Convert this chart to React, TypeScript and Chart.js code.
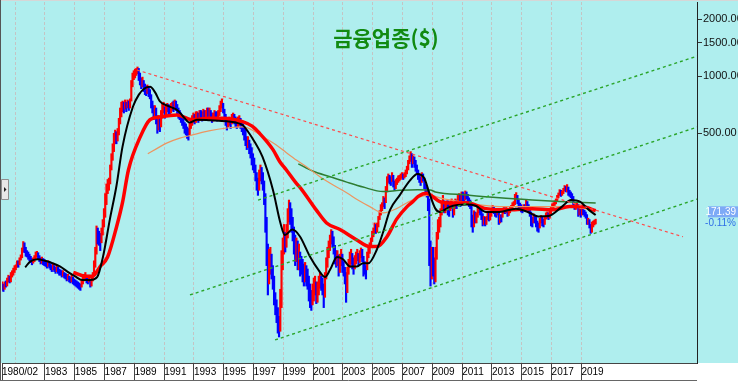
import React, { useEffect, useRef } from 'react';
import { Chart, registerables } from 'chart.js';

Chart.register(...registerables);

// ---------- data (monthly, from 1980/02) ----------
const START_YEAR = 1980;
const START_MONTH = 2;

const closes: number[] = [
  /*1980*/ 78, 76, 80, 79, 84, 86, 83, 88, 91, 94, 97,
  /*1981*/ 99, 104, 101, 108, 112, 120, 128, 124, 118, 116, 113, 110,
  /*1982*/ 108, 105, 107, 110, 113, 116, 112, 109, 106, 108, 105, 104,
  /*1983*/ 102, 100, 103, 101, 98, 97, 99, 96, 95, 97, 94, 93,
  /*1984*/ 92, 90, 91, 89, 88, 86, 87, 85, 84, 86, 83, 82,
  /*1985*/ 81, 80, 79, 78, 77, 80, 84, 86, 88, 85, 83, 86,
  /*1986*/ 80, 82, 88, 98, 115, 148, 142, 140, 135, 150, 165, 185,
  /*1987*/ 220, 250, 265, 275, 320, 370, 410, 470, 480, 470, 500, 560,
  /*1988*/ 620, 680, 700, 690, 710, 690, 720, 700, 720, 900, 980, 1020,
  /*1989*/ 1040, 1070, 1090, 1020, 960, 920, 930, 880, 860, 840, 860, 830,
  /*1990*/ 780, 720, 680, 640, 660, 600, 540, 580, 560, 620, 680, 690,
  /*1991*/ 640, 660, 690, 670, 650, 680, 700, 690, 720, 700, 660, 640,
  /*1992*/ 620, 600, 580, 560, 530, 520, 500, 490, 530, 560, 580, 600,
  /*1993*/ 590, 610, 620, 600, 630, 620, 610, 640, 620, 630, 650, 640,
  /*1994*/ 650, 620, 600, 610, 630, 620, 610, 630, 660, 700, 720, 660,
  /*1995*/ 620, 580, 560, 570, 580, 560, 600, 610, 590, 570, 560, 580,
  /*1996*/ 580, 560, 540, 520, 500, 470, 440, 450, 420, 400, 380, 350,
  /*1997*/ 330, 300, 280, 260, 290, 310, 300, 270, 230, 170, 120, 90,
  /*1998*/ 105, 110, 100, 90, 72, 62, 58, 50, 46, 62, 100, 125,
  /*1999*/ 140, 130, 145, 180, 200, 190, 170, 160, 140, 120, 125, 115,
  /*2000*/ 115, 105, 100, 95, 90, 92, 88, 84, 75, 68, 64, 70,
  /*2001*/ 76, 78, 70, 72, 80, 85, 80, 78, 70, 85, 100, 115,
  /*2002*/ 125, 135, 145, 140, 128, 115, 110, 112, 100, 105, 112, 100,
  /*2003*/ 95, 88, 75, 90, 100, 108, 112, 105, 100, 106, 110, 115,
  /*2004*/ 108, 112, 118, 115, 100, 98, 92, 110, 120, 125, 135, 145,
  /*2005*/ 150, 160, 155, 160, 175, 185, 200, 205, 220, 215, 250, 280,
  /*2006*/ 290, 285, 280, 295, 275, 265, 270, 280, 285, 290, 295, 300,
  /*2007*/ 295, 300, 310, 320, 350, 370, 380, 360, 365, 355, 330, 320,
  /*2008*/ 300, 290, 280, 295, 290, 265, 255, 245, 215, 120, 95, 110,
  /*2009*/ 100, 88, 110, 140, 160, 165, 190, 200, 215, 200, 205, 210,
  /*2010*/ 200, 195, 210, 215, 195, 200, 215, 210, 225, 230, 220, 235,
  /*2011*/ 230, 225, 240, 235, 225, 215, 210, 180, 165, 185, 180, 180,
  /*2012*/ 195, 200, 195, 185, 170, 175, 170, 175, 185, 180, 182, 195,
  /*2013*/ 200, 198, 190, 188, 192, 172, 180, 178, 192, 198, 195, 198,
  /*2014*/ 190, 192, 198, 202, 208, 212, 230, 235, 220, 210, 205, 200,
  /*2015*/ 198, 205, 202, 215, 208, 200, 190, 175, 170, 180, 175, 170,
  /*2016*/ 160, 158, 172, 178, 170, 168, 178, 185, 185, 182, 190, 200,
  /*2017*/ 205, 210, 215, 218, 228, 235, 245, 240, 242, 250, 258, 255,
  /*2018*/ 262, 245, 240, 238, 230, 210, 205, 205, 210, 190, 195, 188,
  /*2019*/ 195, 192, 188, 185, 170, 172, 162, 152, 165, 166, 170, 171.39,
];

const highs: number[] = [
  /*1980*/ 82, 80, 82, 83, 86, 89, 88, 92, 94, 97, 100,
  /*1981*/ 101, 106, 106, 110, 114, 124, 134, 132, 125, 120, 118, 115,
  /*1982*/ 112, 109, 110, 113, 118, 119, 117, 113, 110, 111, 109, 108,
  /*1983*/ 106, 104, 106, 105, 102, 100, 102, 100, 98, 100, 98, 96,
  /*1984*/ 95, 94, 94, 92, 91, 90, 90, 88, 87, 89, 87, 85,
  /*1985*/ 84, 83, 82, 81, 80, 84, 88, 90, 92, 89, 87, 89,
  /*1986*/ 84, 86, 92, 106, 125, 162, 158, 152, 148, 158, 175, 200,
  /*1987*/ 240, 270, 285, 290, 340, 390, 440, 500, 520, 510, 530, 600,
  /*1988*/ 680, 730, 740, 730, 750, 730, 750, 740, 760, 950, 1040, 1070,
  /*1989*/ 1090, 1100, 1120, 1100, 1040, 980, 990, 950, 910, 890, 900, 880,
  /*1990*/ 850, 800, 740, 700, 700, 680, 620, 620, 600, 660, 720, 730,
  /*1991*/ 690, 700, 720, 710, 700, 720, 730, 740, 750, 740, 710, 680,
  /*1992*/ 660, 640, 620, 600, 570, 560, 540, 530, 570, 600, 620, 640,
  /*1993*/ 630, 650, 650, 640, 660, 660, 650, 670, 660, 660, 680, 680,
  /*1994*/ 680, 660, 640, 640, 660, 650, 650, 660, 700, 740, 760, 720,
  /*1995*/ 670, 630, 600, 600, 610, 600, 630, 640, 630, 610, 600, 610,
  /*1996*/ 620, 600, 580, 560, 540, 520, 480, 480, 460, 440, 420, 390,
  /*1997*/ 370, 340, 310, 290, 320, 340, 330, 310, 280, 240, 180, 130,
  /*1998*/ 122, 125, 115, 100, 88, 72, 66, 60, 54, 75, 120, 140,
  /*1999*/ 165, 150, 165, 200, 222, 215, 200, 180, 160, 145, 140, 135,
  /*2000*/ 130, 118, 112, 108, 102, 104, 100, 96, 88, 80, 74, 80,
  /*2001*/ 86, 88, 82, 82, 88, 92, 88, 86, 80, 92, 110, 125,
  /*2002*/ 135, 145, 155, 152, 142, 128, 120, 120, 114, 115, 122, 115,
  /*2003*/ 105, 98, 92, 98, 108, 118, 122, 116, 110, 113, 118, 122,
  /*2004*/ 116, 120, 124, 122, 112, 105, 100, 118, 125, 132, 140, 152,
  /*2005*/ 158, 168, 165, 168, 182, 195, 210, 215, 232, 228, 262, 295,
  /*2006*/ 305, 300, 295, 310, 300, 280, 285, 290, 298, 300, 305, 310,
  /*2007*/ 305, 310, 320, 335, 360, 380, 400, 390, 380, 375, 360, 340,
  /*2008*/ 320, 305, 295, 310, 305, 290, 270, 260, 250, 225, 135, 125,
  /*2009*/ 125, 110, 125, 150, 175, 180, 200, 215, 235, 220, 215, 220,
  /*2010*/ 220, 210, 220, 225, 215, 212, 225, 222, 235, 240, 235, 245,
  /*2011*/ 245, 240, 248, 245, 238, 228, 222, 212, 185, 195, 192, 190,
  /*2012*/ 205, 208, 205, 198, 188, 182, 180, 182, 192, 190, 190, 200,
  /*2013*/ 208, 205, 200, 195, 200, 195, 185, 186, 198, 205, 202, 205,
  /*2014*/ 200, 198, 205, 208, 215, 218, 238, 243, 235, 222, 214, 210,
  /*2015*/ 205, 210, 210, 222, 218, 210, 202, 192, 180, 188, 185, 180,
  /*2016*/ 172, 168, 178, 184, 180, 176, 182, 190, 192, 190, 196, 205,
  /*2017*/ 212, 215, 220, 225, 235, 242, 252, 250, 248, 256, 265, 262,
  /*2018*/ 268, 260, 250, 245, 240, 232, 215, 212, 215, 210, 200, 198,
  /*2019*/ 200, 198, 196, 192, 186, 178, 175, 165, 170, 172, 174, 176,
];

const lows: number[] = [
  /*1980*/ 74, 73, 75, 77, 78, 82, 81, 82, 87, 89, 92,
  /*1981*/ 95, 98, 98, 101, 107, 110, 118, 117, 112, 111, 108, 106,
  /*1982*/ 104, 101, 103, 105, 108, 111, 108, 105, 102, 103, 101, 100,
  /*1983*/ 99, 97, 99, 97, 95, 93, 95, 93, 91, 93, 91, 89,
  /*1984*/ 89, 87, 88, 86, 85, 83, 84, 82, 81, 82, 80, 79,
  /*1985*/ 78, 77, 76, 75, 74, 77, 80, 83, 84, 81, 80, 82,
  /*1986*/ 77, 78, 83, 88, 98, 115, 130, 128, 120, 132, 145, 160,
  /*1987*/ 180, 210, 240, 250, 270, 320, 360, 400, 440, 440, 455, 490,
  /*1988*/ 560, 610, 650, 640, 670, 650, 680, 660, 680, 740, 880, 960,
  /*1989*/ 980, 1010, 1030, 950, 900, 860, 880, 830, 800, 790, 810, 780,
  /*1990*/ 760, 680, 640, 590, 610, 560, 500, 520, 510, 540, 600, 640,
  /*1991*/ 600, 620, 650, 630, 620, 640, 660, 650, 680, 660, 620, 600,
  /*1992*/ 590, 570, 550, 530, 500, 490, 470, 460, 490, 530, 550, 570,
  /*1993*/ 560, 570, 590, 570, 590, 590, 580, 600, 590, 600, 610, 610,
  /*1994*/ 610, 590, 570, 580, 600, 590, 580, 600, 620, 650, 680, 640,
  /*1995*/ 590, 550, 520, 540, 550, 530, 560, 580, 560, 540, 530, 540,
  /*1996*/ 550, 530, 510, 490, 460, 430, 410, 420, 390, 370, 340, 320,
  /*1997*/ 310, 280, 250, 235, 250, 280, 270, 250, 210, 150, 100, 70,
  /*1998*/ 80, 90, 85, 75, 62, 55, 50, 44, 42, 45, 60, 95,
  /*1999*/ 115, 118, 125, 140, 170, 165, 150, 135, 115, 100, 105, 95,
  /*2000*/ 95, 88, 90, 82, 78, 82, 78, 75, 65, 60, 58, 62,
  /*2001*/ 65, 70, 63, 64, 70, 76, 74, 70, 60, 68, 85, 98,
  /*2002*/ 110, 120, 130, 125, 115, 102, 98, 100, 88, 92, 100, 92,
  /*2003*/ 88, 80, 64, 72, 90, 98, 102, 96, 90, 96, 102, 106,
  /*2004*/ 100, 104, 110, 105, 88, 90, 85, 95, 110, 116, 125, 134,
  /*2005*/ 142, 148, 148, 150, 160, 175, 185, 195, 205, 200, 215, 245,
  /*2006*/ 275, 270, 265, 278, 260, 250, 255, 268, 275, 280, 285, 290,
  /*2007*/ 285, 290, 295, 305, 320, 345, 355, 330, 345, 330, 315, 305,
  /*2008*/ 285, 275, 265, 275, 280, 255, 240, 230, 195, 100, 78, 85,
  /*2009*/ 88, 80, 82, 108, 138, 150, 160, 185, 195, 190, 190, 195,
  /*2010*/ 185, 182, 195, 200, 180, 185, 200, 200, 210, 218, 205, 218,
  /*2011*/ 220, 212, 222, 225, 212, 205, 200, 160, 150, 160, 168, 168,
  /*2012*/ 180, 190, 185, 175, 162, 165, 162, 165, 175, 172, 174, 182,
  /*2013*/ 192, 188, 182, 180, 185, 165, 168, 170, 180, 188, 188, 190,
  /*2014*/ 182, 184, 190, 195, 200, 205, 210, 225, 212, 200, 198, 192,
  /*2015*/ 190, 195, 195, 202, 200, 192, 182, 162, 160, 168, 168, 160,
  /*2016*/ 152, 150, 158, 168, 162, 160, 165, 176, 178, 175, 178, 188,
  /*2017*/ 198, 202, 208, 212, 218, 228, 235, 232, 235, 240, 248, 245,
  /*2018*/ 245, 235, 232, 228, 220, 205, 198, 198, 202, 182, 185, 180,
  /*2019*/ 185, 186, 182, 178, 165, 165, 158, 148, 150, 160, 164, 166,
];

// moving-average lines: [year, value]
const ma20Line: [number, number][] = [
  [1981.67, 98], [1982.0, 105], [1982.5, 108], [1983.0, 106], [1983.5, 103], [1984.0, 99],
  [1984.5, 93], [1985.0, 88], [1985.5, 84], [1986.0, 84], [1986.5, 87], [1986.9, 112],
  [1987.35, 175], [1987.8, 265], [1988.2, 424], [1988.9, 690], [1989.3, 800], [1989.7, 865],
  [1990.05, 880], [1990.4, 820], [1990.7, 740], [1991.2, 700], [1991.6, 680], [1991.9, 660],
  [1992.3, 610], [1992.7, 570], [1993.2, 590], [1994.1, 585], [1995.2, 578], [1995.8, 570],
  [1996.3, 550], [1996.7, 500], [1997.0, 460], [1997.6, 375], [1998.3, 251], [1998.8, 168],
  [1999.1, 145], [1999.6, 155], [2000.1, 143], [2000.8, 111], [2001.35, 95], [2001.8, 87],
  [2002.13, 95], [2002.6, 111], [2003.0, 108], [2003.47, 99], [2003.94, 99], [2004.35, 103],
  [2004.7, 103], [2005.28, 122], [2005.69, 150], [2006.16, 197], [2006.8, 235], [2007.5, 282],
  [2008.0, 305], [2008.45, 290], [2008.8, 241], [2009.2, 200], [2009.5, 192], [2010.2, 205],
  [2011.3, 210], [2011.9, 207], [2012.6, 192], [2013.5, 192], [2014.6, 200], [2015.4, 192],
  [2016.1, 182], [2016.8, 183], [2017.7, 205], [2018.3, 222], [2018.9, 218], [2019.5, 197],
  [2019.96, 185],
];

const ma60Line: [number, number][] = [
  [1984.9, 92], [1985.7, 88], [1986.2, 88], [1986.7, 99], [1987.2, 111], [1987.8, 160],
  [1988.2, 215], [1988.6, 320], [1989.4, 480], [1990.05, 590], [1990.7, 610], [1991.85, 625],
  [1992.9, 590], [1994.0, 600], [1994.9, 600], [1996.3, 575], [1996.9, 545], [1997.4, 500],
  [1998.3, 410], [1998.75, 355], [1999.2, 320], [1999.9, 270], [2000.1, 260], [2001.2, 197],
  [2001.9, 168], [2002.8, 155], [2003.9, 137], [2004.8, 126], [2005.3, 126], [2005.95, 142],
  [2006.6, 176], [2007.3, 205], [2007.7, 218], [2008.05, 232], [2008.6, 241], [2009.5, 218],
  [2010.3, 214], [2011.3, 215], [2012.6, 200], [2014.2, 197], [2015.7, 200], [2017.05, 197],
  [2018.2, 205], [2019.05, 205], [2019.96, 195],
];

const ma120Line: [number, number][] = [
  [1989.9, 390], [1990.5, 415], [1991.2, 445], [1992.0, 470], [1992.9, 490], [1994.0, 515],
  [1995.2, 533], [1996.3, 540], [1997.1, 510], [1997.9, 465], [1998.5, 435], [1999.2, 395],
  [1999.9, 360], [2000.5, 335], [2001.45, 295], [2002.4, 265], [2003.3, 241], [2004.0, 222],
  [2004.8, 205], [2005.7, 190], [2006.6, 200], [2007.3, 215], [2008.0, 228], [2008.85, 236],
  [2009.5, 228], [2011.3, 215], [2013.5, 205], [2015.7, 205], [2018.0, 205], [2019.96, 197],
];

const ma240Line: [number, number][] = [
  [2000.0, 345], [2001.0, 315], [2002.13, 295], [2003.2, 277], [2004.35, 260], [2005.69, 246],
  [2006.8, 250], [2008.0, 252], [2008.85, 251], [2009.2, 245], [2011.3, 236], [2013.5, 228],
  [2015.7, 222], [2017.5, 218], [2019.96, 214],
];

// trend lines: [year, value]
const trendRed: [number, number][] = [[1989.17, 1080], [2025.82, 142]];
const trendGreenLow: [number, number][] = [[1998.44, 40.5], [2026.8, 225]];
const trendGreenMid: [number, number][] = [[1992.73, 70], [2026.8, 540]];
const trendGreenHigh: [number, number][] = [[1997.3, 222], [2026.8, 1280]];

// axis / labels
const X_MIN = 1980.114;
const X_MAX = 2026.76;
const Y_MIN = 30.6;
const Y_MAX = 2468;
const firstTickLabel = '1980/02';
const xTickYears = [1981, 1983, 1985, 1987, 1989, 1991, 1993, 1995, 1997, 1999, 2001, 2003, 2005, 2007, 2009, 2011, 2013, 2015, 2017, 2019];
const hiddenLabelYears = [1981];
const yTickValues = [500, 1000, 1500, 2000];
const titleText = '금융업종($)';
const lastPriceText = '171.39';
const lastChangeText = '-0.11%';

const AXIS_FONT = '"Liberation Sans Narrow", "Liberation Sans", Arial, sans-serif';

const monthT = (i: number) => START_YEAR + (START_MONTH - 1 + i + 0.5) / 12;
const toXY = (arr: [number, number][]) => arr.map(([x, y]) => ({ x, y }));

const bgPlugin = {
  id: 'bgPanel',
  beforeDraw(chart: any) {
    const { ctx, width, chartArea: a } = chart;
    ctx.save();
    ctx.fillStyle = '#ffffff';
    ctx.fillRect(0, 0, width, chart.height);
    ctx.fillStyle = '#AFEEEE';
    ctx.fillRect(1, 1, width - 1, a.bottom - 1);
    ctx.restore();
  },
};

const overlayPlugin = {
  id: 'overlay',
  afterDraw(chart: any) {
    const { ctx, chartArea: a, scales } = chart;
    ctx.save();
    // borders
    ctx.strokeStyle = '#d6d6d6';
    ctx.lineWidth = 1;
    ctx.beginPath();
    ctx.moveTo(0, 0.5);
    ctx.lineTo(chart.width, 0.5);
    ctx.stroke();
    ctx.strokeStyle = '#555';
    ctx.beginPath();
    ctx.moveTo(0.5, 0);
    ctx.lineTo(0.5, 381);
    ctx.stroke();
    ctx.strokeStyle = '#666';
    ctx.beginPath();
    ctx.moveTo(0, 380.5);
    ctx.lineTo(a.right, 380.5);
    ctx.stroke();

    // title
    ctx.fillStyle = '#118a11';
    ctx.font = 'bold 21px "Noto Sans CJK KR", sans-serif';
    ctx.textAlign = 'center';
    ctx.textBaseline = 'middle';
    ctx.fillText(titleText, 386, 38);

    // last price label
    const yLast = scales.y.getPixelForValue(closes[closes.length - 1]);
    const boxTop = yLast - 15;
    ctx.fillStyle = '#7eaaf6';
    ctx.fillRect(a.right + 11, boxTop, chart.width - a.right - 11, 11);
    ctx.fillStyle = '#ffffff';
    ctx.font = '10px ' + AXIS_FONT;
    ctx.textAlign = 'right';
    ctx.textBaseline = 'middle';
    ctx.fillText(lastPriceText, chart.width - 2, boxTop + 5.5);
    ctx.fillStyle = '#2f6fe6';
    ctx.fillText(lastChangeText, chart.width - 2, boxTop + 16.5);

    // small side button
    ctx.fillStyle = '#e8e8e8';
    ctx.strokeStyle = '#8f8f8f';
    ctx.beginPath();
    ctx.rect(1.5, 179.5, 7, 20);
    ctx.fill();
    ctx.stroke();
    ctx.fillStyle = '#222';
    ctx.beginPath();
    ctx.moveTo(4, 187);
    ctx.lineTo(6.5, 189.5);
    ctx.lineTo(4, 192);
    ctx.closePath();
    ctx.fill();
    ctx.restore();
  },
};

export default function App() {
  const ref = useRef<HTMLCanvasElement | null>(null);

  useEffect(() => {
    if (!ref.current) return;
    const n = Math.min(closes.length, highs.length, lows.length);
    const barData: any[] = [];
    const barColors: string[] = [];
    for (let i = 0; i < n; i++) {
      barData.push({ x: monthT(i), y: [lows[i], highs[i]] });
      barColors.push(i === 0 || closes[i] >= closes[i - 1] ? '#ff0000' : '#0000ff');
    }

    const lineBase = {
      type: 'line' as const,
      pointRadius: 0,
      fill: false,
      cubicInterpolationMode: 'monotone' as const,
    };

    const chart = new Chart(ref.current, {
      type: 'bar',
      data: {
        datasets: [
          {
            type: 'bar',
            data: barData,
            backgroundColor: barColors,
            borderWidth: 0,
            barThickness: 1.5,
            grouped: false,
            order: 10,
          } as any,
          { ...lineBase, data: toXY(ma240Line), borderColor: '#2e7d32', borderWidth: 1.5, order: 5 },
          { ...lineBase, data: toXY(ma120Line), borderColor: '#ec9560', borderWidth: 1.2, order: 4 },
          { ...lineBase, data: toXY(ma60Line), borderColor: '#ff0000', borderWidth: 3.5, order: 3 },
          { ...lineBase, data: toXY(ma20Line), borderColor: '#000000', borderWidth: 2, order: 2 },
          { ...lineBase, cubicInterpolationMode: 'default', tension: 0, data: toXY(trendRed), borderColor: '#ff4a4a', borderWidth: 1.2, borderDash: [3, 3], order: 1 },
          { ...lineBase, cubicInterpolationMode: 'default', tension: 0, data: toXY(trendGreenLow), borderColor: '#2aa52a', borderWidth: 1.4, borderDash: [3, 3], order: 1 },
          { ...lineBase, cubicInterpolationMode: 'default', tension: 0, data: toXY(trendGreenMid), borderColor: '#2aa52a', borderWidth: 1.4, borderDash: [3, 3], order: 1 },
          { ...lineBase, cubicInterpolationMode: 'default', tension: 0, data: toXY(trendGreenHigh), borderColor: '#2aa52a', borderWidth: 1.4, borderDash: [3, 3], order: 1 },
        ] as any,
      },
      options: {
        animation: false,
        responsive: false,
        maintainAspectRatio: false,
        events: [],
        layout: { padding: { left: 2, top: 2, right: 0, bottom: 1 } },
        plugins: { legend: { display: false }, tooltip: { enabled: false }, title: { display: false } },
        scales: {
          x: {
            type: 'linear',
            position: 'bottom',
            offset: false,
            min: X_MIN,
            max: X_MAX,
            afterBuildTicks: (s: any) => {
              s.ticks = [X_MIN, ...xTickYears].map((v) => ({ value: v }));
            },
            afterFit: (s: any) => {
              s.height = 18;
              s.paddingLeft = 0;
              s.paddingRight = 0;
            },
            ticks: {
              autoSkip: false,
              maxRotation: 0,
              minRotation: 0,
              align: 'start',
              padding: -14.5,
              color: '#000',
              font: { family: AXIS_FONT, size: 10 },
              callback: (v: any) => {
                if (v < 1980.5) return firstTickLabel;
                if (hiddenLabelYears.includes(v)) return '';
                return String(v);
              },
            },
            grid: {
              offset: false,
              drawOnChartArea: true,
              drawTicks: true,
              tickLength: 18,
              lineWidth: 1,
              color: (c: any) => (c.tick && c.tick.value > 1980.5 ? '#c4c4c4' : 'rgba(0,0,0,0)'),
              tickColor: (c: any) => (c.tick && hiddenLabelYears.includes(c.tick.value) ? 'rgba(0,0,0,0)' : '#444'),
              tickBorderDash: [],
              tickWidth: 1,
            },
            border: { display: true, color: '#444', width: 1, dash: [3, 2] },
          },
          y: {
            type: 'logarithmic',
            position: 'right',
            min: Y_MIN,
            max: Y_MAX,
            afterBuildTicks: (s: any) => {
              s.ticks = yTickValues.map((v) => ({ value: v }));
            },
            afterFit: (s: any) => {
              s.width = 41;
              s.paddingTop = 0;
              s.paddingBottom = 0;
            },
            ticks: {
              autoSkip: false,
              padding: 1,
              color: '#111',
              font: { family: AXIS_FONT, size: 11 },
              callback: (v: any) => Number(v).toFixed(2),
            },
            grid: { drawOnChartArea: false, drawTicks: true, tickLength: 5, tickColor: '#333', color: '#333' },
            border: { display: true, color: '#222', width: 1 },
          },
        },
      } as any,
      plugins: [bgPlugin, overlayPlugin],
    });
    return () => chart.destroy();
  }, []);

  return (
    <div style={{ position: 'fixed', left: 0, top: 0, width: 738, height: 382, background: '#fff', overflow: 'hidden' }}>
      <canvas ref={ref} width={738} height={382} style={{ display: 'block' }} />
    </div>
  );
}
